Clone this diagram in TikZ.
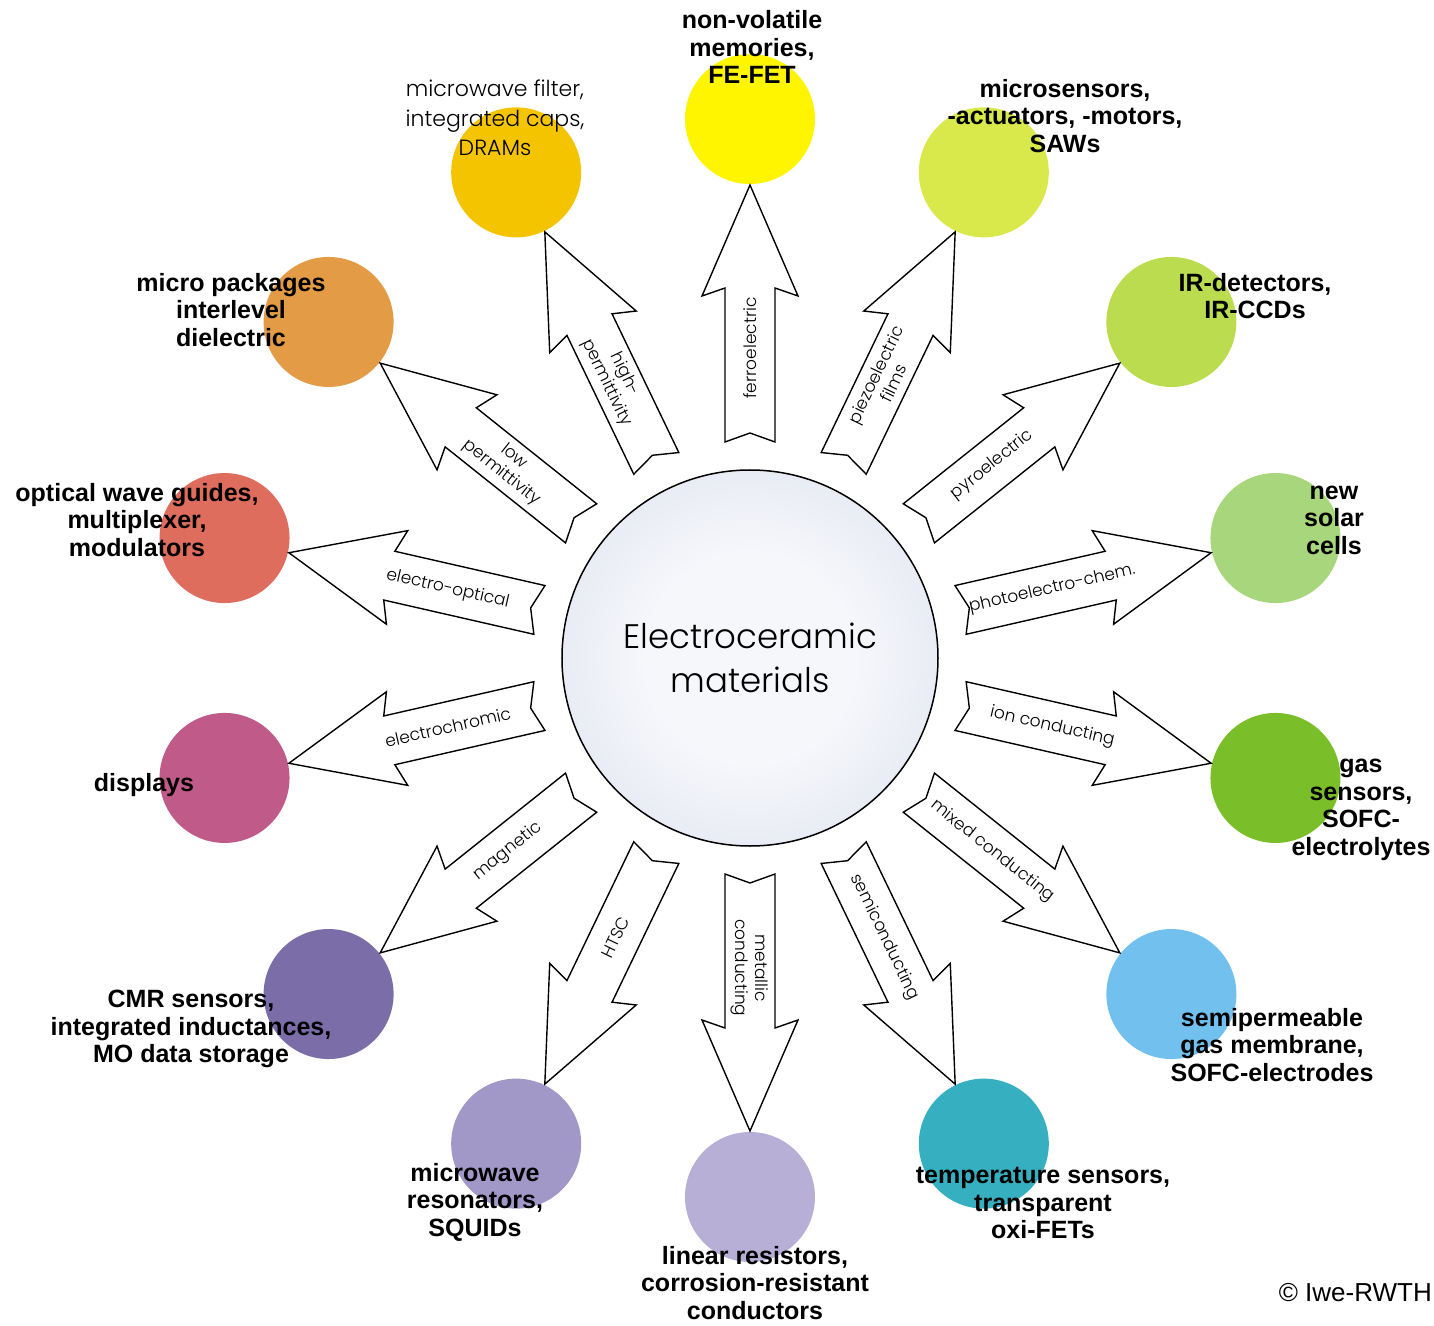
\documentclass[tikz,border=0pt]{standalone}
\usepackage{fontspec}
\setmainfont{Liberation Sans}
\newfontfamily\thinfont{Poppins Light}
\usetikzlibrary{calc}

\definecolor{appA}{HTML}{FFF500}
\definecolor{appB}{HTML}{D9E84B}
\definecolor{appC}{HTML}{BCDC50}
\definecolor{appD}{HTML}{A8D67C}
\definecolor{appE}{HTML}{7ABF2A}
\definecolor{appF}{HTML}{71C0EE}
\definecolor{appG}{HTML}{36B0C0}
\definecolor{appH}{HTML}{B7AFD6}
\definecolor{appI}{HTML}{A298C7}
\definecolor{appJ}{HTML}{7B6DA8}
\definecolor{appK}{HTML}{C05A88}
\definecolor{appL}{HTML}{DE6D5E}
\definecolor{appM}{HTML}{E39B46}
\definecolor{appN}{HTML}{F5C400}
\definecolor{coreinner}{HTML}{F6F7FB}
\definecolor{coreouter}{HTML}{CAD3E5}
\pgfdeclareradialshading{coreshade}{\pgfpoint{0bp}{0bp}}{%
  color(0bp)=(coreinner); color(14bp)=(coreinner);
  color(50bp)=(coreouter); color(72bp)=(coreouter)}

% block arrow from node #1 towards node #2, text #3 along the shaft
\newcommand{\fatarrow}[3]{%
  \path[arrowbody]
    ($(#1.center)!216pt!(#2.center)!25pt!90:(#2.center)$)
    -- ($(#1.center)!225pt!(#2.center)$)
    -- ($(#1.center)!216pt!(#2.center)!25pt!-90:(#2.center)$)
    -- ($(#1.center)!370pt!(#2.center)!25pt!-90:(#2.center)$)
    -- ($(#1.center)!362pt!(#2.center)!48pt!-90:(#2.center)$)
    -- ($(#1.center)!473pt!(#2.center)$)
    -- ($(#1.center)!362pt!(#2.center)!48pt!90:(#2.center)$)
    -- ($(#1.center)!370pt!(#2.center)!25pt!90:(#2.center)$)
    -- cycle;
  \path ($(#1.center)!216pt!(#2.center)$) -- ($(#1.center)!404pt!(#2.center)$)
    node[midway,sloped,arrowtext] {#3};}

\begin{document}
\begin{tikzpicture}[x=1pt,y=1pt,
  dot/.style={circle,minimum size=130pt,inner sep=0pt},
  core/.style={circle,draw,line width=1.5pt,minimum size=376pt,shading=coreshade,
    align=center,font=\thinfont\fontsize{34}{44}\selectfont},
  arrowbody/.style={draw,fill=white,line width=1.4pt,line join=miter},
  arrowtext/.style={align=center,inner sep=0pt,font=\thinfont\fontsize{17}{20}\selectfont},
  apptext/.style={align=center,inner sep=0pt,font=\fontsize{25}{27.5}\selectfont\bfseries},
  thintext/.style={align=center,inner sep=0pt,font=\thinfont\fontsize{22}{29.5}\selectfont}]
\useasboundingbox (-750,-667) rectangle (684,658);

\node[core] (core) at (0,0) {Electroceramic\\materials};

\node[dot,fill=appA] (a1) at (0,539) {};
\node[dot,fill=appB] (a2) at (64.29:539) {};
\node[dot,fill=appC] (a3) at (38.57:539) {};
\node[dot,fill=appD] (a4) at (12.86:539) {};
\node[dot,fill=appE] (a5) at (-12.86:539) {};
\node[dot,fill=appF] (a6) at (-38.57:539) {};
\node[dot,fill=appG] (a7) at (-64.29:539) {};
\node[dot,fill=appH] (a8) at (0,-539) {};
\node[dot,fill=appI] (a9) at (-115.71:539) {};
\node[dot,fill=appJ] (a10) at (-141.43:539) {};
\node[dot,fill=appK] (a11) at (-167.14:539) {};
\node[dot,fill=appL] (a12) at (167.14:539) {};
\node[dot,fill=appM] (a13) at (141.43:539) {};
\node[dot,fill=appN] (a14) at (115.71:539) {};

\fatarrow{core}{a1}{ferroelectric}
\fatarrow{core}{a2}{piezoelectric\\films}
\fatarrow{core}{a3}{pyroelectric}
\fatarrow{core}{a4}{photoelectro-chem.}
\fatarrow{core}{a5}{ion conducting}
\fatarrow{core}{a6}{mixed conducting}
\fatarrow{core}{a7}{semiconducting}
\fatarrow{core}{a8}{metallic\\conducting}
\fatarrow{core}{a9}{HTSC}
\fatarrow{core}{a10}{magnetic}
\fatarrow{core}{a11}{electrochromic}
\fatarrow{core}{a12}{electro-optical}
\fatarrow{core}{a13}{low\\permittivity}
\fatarrow{core}{a14}{high-\\permittivity}

\node[apptext] (t1) at (2,611) {non-volatile\\memories,\\FE-FET};
\node[apptext] (t2) at (315,542) {microsensors,\\-actuators, -motors,\\SAWs};
\node[apptext] (t3) at (505,362) {IR-detectors,\\IR-CCDs};
\node[apptext] (t4) at (584,138) {new\\solar\\cells};
\node[apptext] (t5) at (611,-152) {gas\\sensors,\\SOFC-\\electrolytes};
\node[apptext] (t6) at (522,-387) {semipermeable\\gas membrane,\\SOFC-electrodes};
\node[apptext] (t7) at (293,-545) {temperature sensors,\\transparent\\oxi-FETs};
\node[apptext] (t8) at (5,-625) {linear resistors,\\corrosion-resistant\\conductors};
\node[apptext] (t9) at (-275,-544) {microwave\\resonators,\\SQUIDs};
\node[apptext] (t10) at (-559,-371) {CMR sensors,\\integrated inductances,\\MO data storage};
\node[apptext] (t11) at (-606,-127) {displays};
\node[apptext] (t12) at (-613,138) {optical wave guides,\\multiplexer,\\modulators};
\node[apptext] (t13) at (-519,348) {micro packages\\interlevel\\dielectric};
\node[thintext] (t14) at (-255,540) {microwave filter,\\integrated caps,\\DRAMs};

\node[anchor=east,inner sep=0pt,font=\fontsize{26}{30}\selectfont] (copy) at (682,-635) {\textcopyright{} Iwe-RWTH};
\end{tikzpicture}
\end{document}
